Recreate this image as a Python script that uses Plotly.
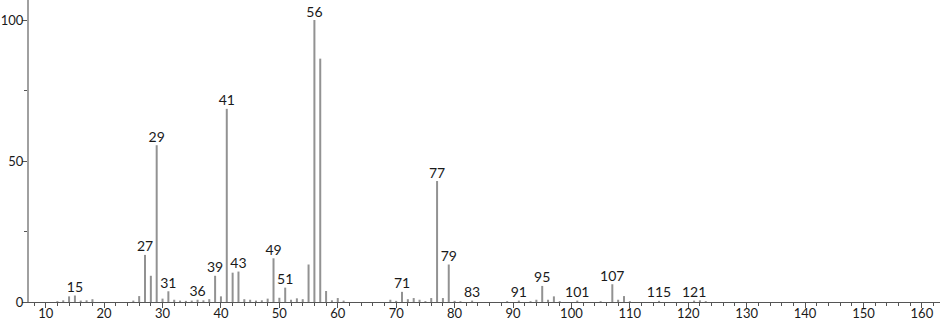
import plotly.graph_objects as go

# m/z values and relative intensities
mz = [12, 13, 14, 15, 16, 17, 18, 25, 26, 27, 28, 29, 30, 31, 32, 33, 34, 35, 36, 37, 38,
      39, 40, 41, 42, 43, 44, 45, 46, 47, 48, 49, 50, 51, 52, 53, 54, 55, 56, 57, 58, 59,
      60, 61, 69, 70, 71, 72, 73, 74, 75, 76, 77, 78, 79, 80, 81, 83, 89, 91, 93, 94, 95,
      96, 97, 98, 101, 105, 107, 108, 109, 110, 115, 121, 122, 123]
intensity = [0.3, 0.6, 2.0, 2.3, 0.5, 0.6, 1.0, 0.5, 2.1, 16.7, 9.3, 55.6, 1.2, 3.8, 0.8, 0.5,
             0.4, 0.5, 0.8, 0.6, 1.0, 9.3, 2.0, 68.5, 10.4, 10.8, 1.0, 0.8, 0.5, 0.6, 1.2,
             15.5, 1.5, 5.1, 0.8, 1.3, 1.0, 13.3, 100.0, 86.3, 3.9, 0.6, 1.4, 0.5, 0.8, 0.4,
             3.6, 1.0, 1.4, 0.8, 0.3, 1.4, 42.9, 1.4, 13.3, 0.4, 0.3, 0.5, 0.3, 0.5, 0.3,
             0.8, 5.7, 0.8, 2.0, 0.3, 0.5, 0.3, 6.3, 0.8, 2.1, 0.3, 0.4, 0.5, 0.6, 0.3]

labelled_mz = [15, 27, 29, 31, 36, 39, 41, 43, 49, 51, 56, 71, 77, 79, 83, 91, 95, 101, 107, 115, 121]

x_ticks = list(range(10, 161, 10))
y_ticks = [0, 50, 100]

# build stick coordinates from the data
lx, ly = [], []
for m, v in zip(mz, intensity):
    lx += [m, m, None]
    ly += [0, v, None]

lookup = dict(zip(mz, intensity))
lab_y = [lookup[m] for m in labelled_mz]

FONT = "Lato"

fig = go.Figure()
fig.add_trace(go.Scatter(x=lx, y=ly, mode="lines",
                         line=dict(color="#929292", width=2),
                         hoverinfo="skip", showlegend=False))
fig.add_trace(go.Scatter(x=labelled_mz, y=lab_y, mode="text",
                         text=[str(m) for m in labelled_mz],
                         textposition="top center",
                         textfont=dict(family=FONT, size=14, color="#1a1a1a"),
                         showlegend=False))

fig.update_layout(
    width=940, height=322,
    margin=dict(l=29, r=0, t=0, b=20),
    plot_bgcolor="white", paper_bgcolor="white",
    font=dict(family=FONT, size=13, color="#1a1a1a"),
)
fig.update_xaxes(range=[7.14, 163.1], tickvals=x_ticks, ticktext=[str(t) for t in x_ticks],
                 automargin=False,
                 showgrid=False, zeroline=False, showline=True, linecolor="#555", linewidth=1,
                 ticks="outside", ticklen=5, tickcolor="#555", tickwidth=1,
                 minor=dict(dtick=2, tick0=0, ticks="outside", ticklen=3, tickcolor="#555", showgrid=False),
                 tickfont=dict(size=13), ticklabelstandoff=-6)
fig.update_yaxes(range=[0, 107.1], tickvals=y_ticks, ticktext=[str(t) for t in y_ticks],
                 automargin=False,
                 showgrid=False, zeroline=False, showline=True, linecolor="#a0a0a0", linewidth=2,
                 ticks="outside", ticklen=5, tickcolor="#555", tickwidth=1,
                 minor=dict(dtick=25, tick0=0, ticks="outside", ticklen=3, tickcolor="#555", showgrid=False),
                 tickfont=dict(size=13), ticklabelstandoff=-4)

fig.write_html("out.html")
